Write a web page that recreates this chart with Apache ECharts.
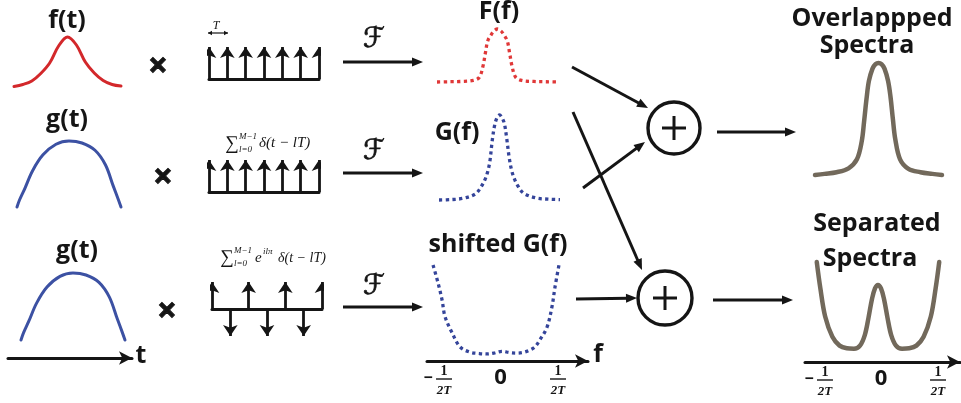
<!DOCTYPE html>
<html>
<head>
<meta charset="utf-8">
<script src="https://cdn.jsdelivr.net/npm/echarts@6/dist/echarts.min.js"></script>
<style>
  html, body { margin: 0; padding: 0; background: #ffffff; }
  #chart { width: 961px; height: 403px; }
</style>
</head>
<body>
<div id="chart"></div>
<script>
// ---- signal samples (time domain) ----
const fT_x = [-3, -2.5, -2, -1.5, -1, -0.5, 0, 0.5, 1, 1.5, 2, 2.5, 3];
const fT_y = [0.01, 0.05, 0.12, 0.27, 0.48, 0.82, 1, 0.84, 0.5, 0.28, 0.13, 0.05, 0.02];

const gT_x = [-1, -0.95, -0.85, -0.7, -0.5, -0.25, 0, 0.25, 0.5, 0.7, 0.85, 0.95, 1];
const gT_y = [0, 0.11, 0.28, 0.55, 0.79, 0.95, 1, 0.97, 0.86, 0.64, 0.32, 0.11, 0];

// ---- sampling combs: sign of each impulse ----
const deltaComb = [1, 1, 1, 1, 1, 1, 1];
const altComb = [1, -1, 1, -1, 1, -1, 1];

// ---- spectra (frequency in units of 1/T) ----
const Ff_x = [-0.5, -0.4, -0.3, -0.2, -0.15, -0.12, -0.1, -0.08, -0.05, -0.03, 0, 0.03, 0.05, 0.08, 0.1, 0.12, 0.15, 0.2, 0.3, 0.4, 0.5];
const Ff_y = [0, 0.005, 0.01, 0.03, 0.09, 0.3, 0.55, 0.78, 0.9, 0.96, 1, 0.96, 0.9, 0.78, 0.55, 0.3, 0.09, 0.03, 0.01, 0.005, 0];

const Gf_x = [-0.5, -0.4, -0.3, -0.2, -0.15, -0.12, -0.1, -0.08, -0.06, -0.04, -0.02, 0, 0.02, 0.04, 0.06, 0.08, 0.1, 0.12, 0.15, 0.2, 0.3, 0.4, 0.5];
const Gf_y = [0, 0.005, 0.02, 0.07, 0.16, 0.24, 0.32, 0.45, 0.7, 0.88, 0.97, 1, 0.97, 0.9, 0.72, 0.5, 0.35, 0.26, 0.17, 0.08, 0.025, 0.01, 0.005];

const shiftG_x = [-0.533, -0.492, -0.459, -0.434, -0.376, -0.31, -0.227, -0.15, -0.087, -0.03, 0.037, 0.1, 0.161, 0.22, 0.269, 0.31, 0.351, 0.409, 0.45, 0.475, 0.508];
const shiftG_y = [1, 0.8, 0.61, 0.42, 0.24, 0.08, 0.02, 0.005, 0, 0.01, 0.03, 0.015, 0.01, 0.02, 0.045, 0.08, 0.16, 0.3, 0.53, 0.75, 1];

const overlap_x = [-0.53, -0.45, -0.35, -0.25, -0.18, -0.14, -0.12, -0.1, -0.08, -0.05, -0.025, 0, 0.025, 0.05, 0.08, 0.1, 0.12, 0.14, 0.18, 0.25, 0.35, 0.45, 0.53];
const overlap_y = [0, 0.01, 0.025, 0.06, 0.14, 0.3, 0.48, 0.68, 0.84, 0.95, 0.99, 1, 0.99, 0.95, 0.84, 0.7, 0.5, 0.32, 0.14, 0.055, 0.025, 0.01, 0];

const separ_x = [-0.51, -0.48, -0.44, -0.38, -0.32, -0.26, -0.2, -0.15, -0.11, -0.08, -0.05, -0.025, 0, 0.025, 0.05, 0.08, 0.11, 0.15, 0.2, 0.26, 0.32, 0.38, 0.44, 0.48, 0.51];
const separ_y = [1, 0.7, 0.38, 0.15, 0.05, 0.02, 0.015, 0.05, 0.17, 0.36, 0.58, 0.7, 0.74, 0.7, 0.58, 0.36, 0.17, 0.05, 0.015, 0.02, 0.05, 0.15, 0.38, 0.7, 1];

// ---- frequency tick marks ----
const freqTicks = [-0.5, 0, 0.5];

// ---- styling ----
const INK = '#151515';
const RED = '#d3282b';
const BLUE = '#3c51a3';
const RED_DOT = '#e03838';
const BLUE_DOT = '#34449a';
const BROWN = '#72695b';
const SANS = '"Open Sans", "Noto Sans", sans-serif';
const SERIF = '"Liberation Serif", "DejaVu Serif", serif';

const grids = [], xAxes = [], yAxes = [], series = [];

function addPanel(box, xr, yr, axisLine) {
  const i = grids.length;
  grids.push({ left: box[0], top: box[1], width: box[2], height: box[3] });
  xAxes.push({
    type: 'value', gridIndex: i, min: xr[0], max: xr[1],
    axisLabel: { show: false }, axisTick: { show: false }, splitLine: { show: false },
    axisLine: axisLine || { show: false }
  });
  yAxes.push({ type: 'value', gridIndex: i, min: yr[0], max: yr[1], show: false, splitLine: { show: false } });
  return i;
}

function addCurve(i, xs, ys, color, width, dotted) {
  series.push({
    type: 'line', xAxisIndex: i, yAxisIndex: i,
    data: xs.map((x, k) => [x, ys[k]]),
    symbol: 'none', smooth: 0.35, clip: false, silent: true,
    lineStyle: { color: color, width: width, type: dotted ? [3.3, 3.4] : 'solid', cap: dotted ? 'butt' : 'round', join: 'round' }
  });
}

function addComb(i, signs) {
  series.push({
    type: 'lines', coordinateSystem: 'cartesian2d', xAxisIndex: i, yAxisIndex: i,
    data: signs.map((s, k) => ({ coords: [[k, 0], [k, s]] })),
    symbol: ['none', 'arrow'], symbolSize: 11, silent: true,
    lineStyle: { color: INK, width: 2.8, opacity: 1, curveness: 0 }
  });
}

const arrowAxis = {
  show: true, onZero: false, symbol: ['none', 'arrow'], symbolSize: [10, 13],
  lineStyle: { color: INK, width: 3 }
};
const combAxis = { show: true, onZero: true, lineStyle: { color: INK, width: 3 } };

// time-domain signals
const pF = addPanel([14, 37, 107, 50], [-3, 3], [0, 1]);
addCurve(pF, fT_x, fT_y, RED, 3);
const pG1 = addPanel([17, 141, 104, 66], [-1, 1], [0, 1]);
addCurve(pG1, gT_x, gT_y, BLUE, 3);
const pG2 = addPanel([8, 273, 124, 85], [-1.25, 1.135], [-0.269, 1], arrowAxis);
addCurve(pG2, gT_x, gT_y, BLUE, 3);

// sampling combs
const pC1 = addPanel([209, 47, 110, 32], [0, 6], [0, 1], combAxis);
addComb(pC1, deltaComb);
const pC2 = addPanel([209, 160, 110, 32], [0, 6], [0, 1], combAxis);
addComb(pC2, deltaComb);
const pC3 = addPanel([212, 282, 110, 54], [0, 6], [-1, 1], combAxis);
addComb(pC3, altComb);

// spectra
const pSF = addPanel([437, 29, 121, 53], [-0.5, 0.5], [0, 1]);
addCurve(pSF, Ff_x, Ff_y, RED_DOT, 3.3, true);
const pSG = addPanel([439, 115, 121, 85], [-0.5, 0.5], [0, 1]);
addCurve(pSG, Gf_x, Gf_y, BLUE_DOT, 3.3, true);
const pSS = addPanel([427, 265, 161, 96], [-0.583, 0.748], [-0.079, 1], arrowAxis);
addCurve(pSS, shiftG_x, shiftG_y, BLUE_DOT, 3.3, true);

// summed spectra
const pOV = addPanel([815, 63, 127, 112], [-0.53, 0.53], [0, 1]);
addCurve(pOV, overlap_x, overlap_y, BROWN, 4.5);
const pSP = addPanel([805, 262, 155, 100], [-0.608, 0.683], [-0.136, 1], arrowAxis);
addCurve(pSP, separ_x, separ_y, BROWN, 4.5);

const chart = echarts.init(document.getElementById('chart'), null, { renderer: 'canvas' });
chart.setOption({
  backgroundColor: '#ffffff',
  animation: false,
  grid: grids, xAxis: xAxes, yAxis: yAxes, series: series
});

// ---- annotation layer ----
const g = [];
function txt(x, y, text, font, opt) {
  g.push({
    type: 'text', silent: true, z: 10,
    style: Object.assign({ x: x, y: y, text: text, font: font, fill: INK, align: 'center', verticalAlign: 'middle' }, opt || {})
  });
}
function seg(x1, y1, x2, y2, w) {
  g.push({ type: 'line', silent: true, z: 10, shape: { x1, y1, x2, y2 }, style: { stroke: INK, lineWidth: w || 3, lineCap: 'butt' } });
}
function head(x1, y1, x2, y2, L, W) {
  const dx = x2 - x1, dy = y2 - y1, d = Math.hypot(dx, dy), ux = dx / d, uy = dy / d;
  const bx = x2 - ux * L, by = y2 - uy * L;
  g.push({
    type: 'polygon', silent: true, z: 11,
    shape: { points: [[x2, y2], [bx - uy * W, by + ux * W], [bx + uy * W, by - ux * W]] },
    style: { fill: INK }
  });
  return [bx + ux * 2, by + uy * 2];
}
function arrow(x1, y1, x2, y2, w) {
  const e = head(x1, y1, x2, y2, 11, 4.5);
  seg(x1, y1, e[0], e[1], w || 3);
}

// titles
const TITLE = 'bold 25px ' + SANS;
txt(67, 21, 'f(t)', TITLE);
txt(67, 120, 'g(t)', TITLE);
txt(77, 251, 'g(t)', TITLE);
txt(141, 356, 't', TITLE);
txt(499, 12, 'F(f)', TITLE);
txt(457, 133, 'G(f)', TITLE);
txt(498, 245, 'shifted G(f)', TITLE);
txt(598, 355, 'f', TITLE);
txt(872, 19, 'Overlappped', TITLE);
txt(867, 46, 'Spectra', TITLE);
txt(877, 224, 'Separated', TITLE);
txt(870, 259, 'Spectra', TITLE);

// multiplication signs
const TIMES = 'bold 34px ' + SANS;
const heavy = { stroke: INK, lineWidth: 1 };
txt(158, 67, '×', TIMES, heavy);
txt(163, 178, '×', TIMES, heavy);
txt(167, 312, '×', TIMES, heavy);

// comb spacing marker
txt(216, 26, 'T', 'italic 12px ' + SERIF);
seg(208, 33, 228, 33, 1.2);
head(222, 33, 208, 33, 4, 2.2);
head(214, 33, 228, 33, 4, 2.2);

// comb formulas
txt(232, 144, '∑', '19px ' + SERIF);
txt(239, 137, 'M−1', 'italic 9px ' + SERIF, { align: 'left' });
txt(239, 150, 'l=0', 'italic 9px ' + SERIF, { align: 'left' });
txt(259, 143, 'δ(t − lT)', 'italic 15px ' + SERIF, { align: 'left' });

txt(227, 258, '∑', '19px ' + SERIF);
txt(234, 251, 'M−1', 'italic 9px ' + SERIF, { align: 'left' });
txt(234, 264, 'l=0', 'italic 9px ' + SERIF, { align: 'left' });
txt(255, 258, 'e', 'italic 15px ' + SERIF, { align: 'left' });
txt(263, 252, 'ilπ', 'italic 9px ' + SERIF, { align: 'left' });
txt(278, 258, 'δ(t − lT)', 'italic 14px ' + SERIF, { align: 'left' });

// Fourier transform arrows
const FOURIER = '28px "DejaVu Sans", serif';
[[40, 62], [152, 173], [287, 307]].forEach(function (r) {
  txt(374, r[0], 'ℱ', FOURIER, { stroke: INK, lineWidth: 0.7 });
  arrow(343, r[1], 423, r[1]);
});

// routing to the adders
arrow(572, 67, 648, 108);
arrow(573, 112, 642, 270);
arrow(583, 188, 645, 142);
arrow(576, 299, 637, 298);

// adders
[[674, 128, 26], [665, 298, 27]].forEach(function (c) {
  g.push({ type: 'circle', silent: true, z: 10, shape: { cx: c[0], cy: c[1], r: c[2] }, style: { fill: 'none', stroke: INK, lineWidth: 3.4 } });
  seg(c[0] - 12, c[1], c[0] + 12, c[1], 3);
  seg(c[0], c[1] - 12, c[0], c[1] + 12, 3);
});
arrow(717, 132, 796, 132);
arrow(713, 300, 793, 300);

// frequency tick labels placed from the axis scale
function fracLabel(gridIndex, value) {
  const p = chart.convertToPixel({ gridIndex: gridIndex }, [value, 0]);
  const axisY = grids[gridIndex].top + grids[gridIndex].height;
  const y0 = axisY + 10;
  if (value === 0) {
    txt(p[0] + 3, axisY + 17, '0', 'bold 22px ' + SANS);
    return;
  }
  const cx = value < 0 ? p[0] + 7 : p[0];
  if (value < 0) txt(cx - 16, y0 + 7, '−', 'bold 16px ' + SANS);
  txt(cx, y0, '1', 'bold 14px ' + SERIF);
  seg(cx - 8, y0 + 8, cx + 8, y0 + 8, 1.4);
  txt(cx, y0 + 20, '2T', 'bold italic 13px ' + SERIF);
}
freqTicks.forEach(function (v) { fracLabel(pSS, v); fracLabel(pSP, v); });

chart.setOption({ graphic: { elements: g } });
</script>
</body>
</html>
